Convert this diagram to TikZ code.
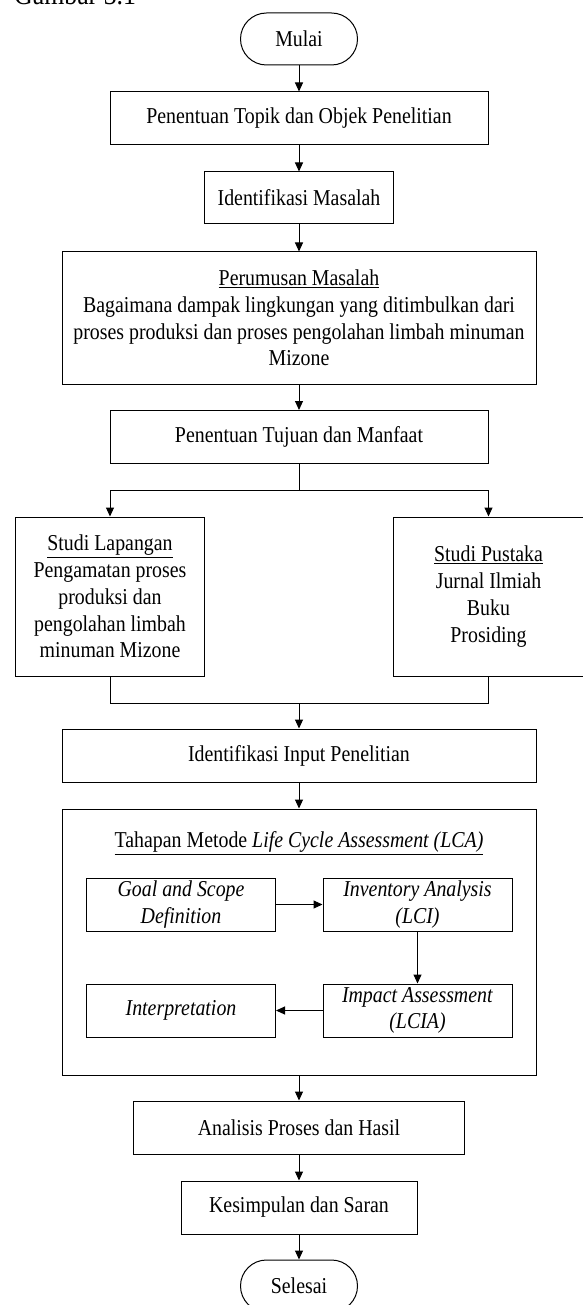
\documentclass[tikz,border=0pt]{standalone}
\usepackage{fontspec}
\setmainfont{Liberation Serif}[FakeStretch=0.875]
\usetikzlibrary{arrows.meta}
\begin{document}
\begin{tikzpicture}[x=1pt,y=-1pt,
  txt/.style={font=\fontsize{22.7}{26.8}\selectfont, align=center, inner sep=0pt},
  box/.style={txt, draw, line width=1pt, rectangle},
  term/.style={box, rounded corners=26pt},
  arr/.style={line width=1pt, -{Triangle[length=9pt,width=8pt]}},
  ln/.style={line width=1pt}]
\useasboundingbox (0,0) rectangle (582,1305);

\node[anchor=base west, inner sep=0pt, font=\fontsize{29.5}{34}\selectfont] (cap) at (14,5) {Gambar 3.1};

\node[term, minimum width=117pt, minimum height=52pt] (mulai) at (299,39) {Mulai};
\node[box, minimum width=378pt, minimum height=53pt] (topik) at (299,118.5) {Penentuan Topik dan Objek Penelitian};
\node[box, minimum width=189pt, minimum height=52pt] (masalah) at (299,198) {Identifikasi Masalah};
\node[box, minimum width=474pt, minimum height=132pt] (rumusan) at (299,318)
  {\underline{Perumusan Masalah}\\Bagaimana dampak lingkungan yang ditimbulkan dari\\proses produksi dan proses pengolahan limbah minuman\\Mizone};
\node[box, minimum width=378pt, minimum height=53pt] (tujuan) at (299,437) {Penentuan Tujuan dan Manfaat};
\node[box, minimum width=189pt, minimum height=159pt] (lap) at (110,596.5)
  {\underline{Studi Lapangan}\\Pengamatan proses\\produksi dan\\pengolahan limbah\\minuman Mizone};
\node[box, minimum width=190pt, minimum height=159pt] (pus) at (488.5,596.5)
  {\underline{Studi Pustaka}\\Jurnal Ilmiah\\Buku\\Prosiding};
\node[box, minimum width=474pt, minimum height=53pt] (input) at (299,755.5) {Identifikasi Input Penelitian};

\node[box, minimum width=474pt, minimum height=266pt] (lca) at (299,942) {};
\node[txt] (lcatitle) at (299,843) {\underline{Tahapan Metode \textit{Life Cycle Assessment (LCA)}}};
\node[box, minimum width=189pt, minimum height=53pt] (goal) at (181,904.5) {\textit{Goal and Scope}\\\textit{Definition}};
\node[box, minimum width=189pt, minimum height=53pt] (inv) at (417.5,904.5) {\textit{Inventory Analysis}\\\textit{(LCI)}};
\node[box, minimum width=189pt, minimum height=53pt] (impact) at (417.5,1010.5) {\textit{Impact Assessment}\\\textit{(LCIA)}};
\node[box, minimum width=189pt, minimum height=53pt] (interp) at (181,1010.5) {\textit{Interpretation}};

\node[box, minimum width=331pt, minimum height=53pt] (analisis) at (299,1127.5) {Analisis Proses dan Hasil};
\node[box, minimum width=236pt, minimum height=53pt] (kesimpulan) at (299,1207.5) {Kesimpulan dan Saran};
\node[term, minimum width=117pt, minimum height=52pt] (selesai) at (299,1286) {Selesai};

\coordinate (split) at (299,490);
\coordinate (merge) at (299,703);

\draw[arr] (mulai) -- (topik);
\draw[arr] (topik) -- (masalah);
\draw[arr] (masalah) -- (rumusan);
\draw[arr] (rumusan) -- (tujuan);
\draw[ln] (tujuan.south) -- (split);
\draw[arr] (split) -| (lap.north);
\draw[arr] (split) -| (pus.north);
\draw[ln] (lap.south) |- (merge);
\draw[ln] (pus.south) |- (merge);
\draw[arr] (merge) -- (input.north);
\draw[arr] (input) -- (lca);
\draw[arr] (goal) -- (inv);
\draw[arr] (inv) -- (impact);
\draw[arr] (impact) -- (interp);
\draw[arr] (lca) -- (analisis);
\draw[arr] (analisis) -- (kesimpulan);
\draw[arr] (kesimpulan) -- (selesai);
\end{tikzpicture}
\end{document}
